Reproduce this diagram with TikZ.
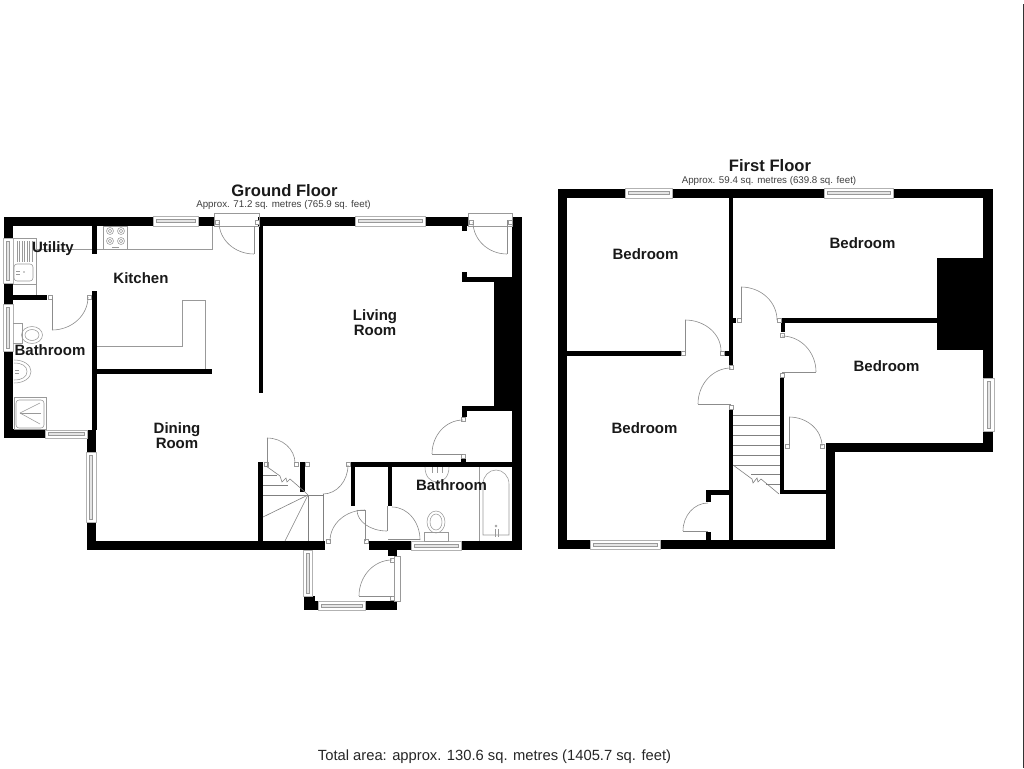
\documentclass[tikz,border=0pt]{standalone}
\usepackage{fontspec}
\setmainfont{Liberation Sans}
\tikzset{
  wall/.style={fill=black,draw=none},
  fit/.style={draw=black!40,line width=0.55pt,fill=none},
  winl/.style={draw=black!30,line width=0.55pt},
  door/.style={draw=black!45,line width=0.6pt,fill=none},
  stair/.style={draw=black!50,line width=0.6pt},
  room/.style={font=\bfseries\fontsize{15}{15}\selectfont,text=black!90,align=center,inner sep=0pt},
  head/.style={font=\bfseries\fontsize{16.6}{17}\selectfont,text=black!90,inner sep=0pt},
  sub/.style={font=\fontsize{9.75}{10}\selectfont,text=black!75,inner sep=0pt},
}
\newcommand{\wl}[4]{\fill[wall] (#1,#2) rectangle (#3,#4);}
\newcommand{\winh}[4]{\draw[winl,fill=white] (#1,#2) rectangle (#3,#4);
  \draw[winl,draw=black!40,fill=black!10] ({#1+3},{(#2+#4)/2-1.6}) rectangle ({#3-3},{(#2+#4)/2+1.6});}
\newcommand{\winv}[4]{\draw[winl,fill=white] (#1,#2) rectangle (#3,#4);
  \draw[winl,draw=black!40,fill=black!10] ({(#1+#3)/2-1.6},{#2+3}) rectangle ({(#1+#3)/2+1.6},{#4-3});}
\newcommand{\sq}[2]{\draw[fit,fill=white] ({#1-2},{#2-2}) rectangle ({#1+2},{#2+2});}
% quarter arc: x0 y0 -> x1 y1 with corner cx cy
\newcommand{\qarc}[6]{\draw[door] (#1,#2) .. controls ({#1+0.5523*(#5-#1)},{#2+0.5523*(#6-#2)}) and ({#3+0.5523*(#5-#3)},{#4+0.5523*(#6-#4)}) .. (#3,#4);}
\begin{document}
\begin{tikzpicture}[x=1pt,y=-1pt]
\useasboundingbox (0,0) rectangle (1024,768);
\fill[white] (0,0) rectangle (1024,768);
\fill[black!80] (1022.8,4) rectangle (1024,768);
% ---------- GROUND FLOOR walls
\wl{4}{217}{214}{226}
\wl{258}{217}{468}{226}
\wl{462}{226}{467}{231}
\wl{4}{217}{13}{238}
\wl{4}{283}{13}{304}
\wl{13}{295}{47}{300}
\wl{4}{351}{13}{438}
\wl{4}{429}{45}{438}
\wl{87}{430}{96}{452}
\wl{87}{522}{96}{550}
\wl{87}{541}{325}{550}
\wl{369}{541}{411}{550}
\wl{461}{541}{522}{550}
\wl{388}{541}{397}{556}
\wl{92}{226}{97}{254}
\wl{92}{291}{97}{430}
\wl{97}{369}{212}{374}
\wl{259}{226}{263}{393}
\wl{258}{462}{263}{541}
\wl{300}{462}{305}{492}
\wl{351}{462}{355}{506}
\wl{388}{467}{392}{506}
\wl{350}{462}{512}{467}
\wl{512}{217}{522}{550}
\wl{462}{277}{512}{282}
\wl{462}{272}{467}{282}
\wl{494}{282}{512}{406}
\wl{462}{406}{512}{411}
\wl{462}{411}{467}{417}
\wl{461}{458}{466}{462}
\wl{304}{601}{318}{610}
\wl{304}{596}{315}{610}
\wl{365}{601}{397}{610}
% windows
\winh{153}{216}{198}{226}
\winh{355}{216}{425}{226}
\winv{3}{238}{13}{283}
\winv{3}{304}{13}{351}
\winh{45}{430}{87}{438}
\winv{86}{452}{96}{522}
\winh{411}{541}{461}{550}
\winv{303}{550}{312}{596}
\winh{318}{601}{365}{610}
\draw[fit] (394,556) rectangle (400,601);
% doors ground
\draw[fit] (214,213) rectangle (259,226);
\draw[fit] (468,213) rectangle (512,226);
\sq{217}{222}\sq{257}{222}\sq{471}{222}\sq{510}{222}
\draw[door] (254,226) -- (254,254);
\qarc{219}{222}{254}{254}{219}{254}
\draw[door] (507,220) -- (507,254);
\qarc{473}{222}{507}{254}{473}{254}
\sq{50}{297}\sq{89}{297}
\draw[door] (52,297) -- (52,330);
\qarc{52}{330}{88}{297}{88}{330}
\sq{463}{419}\sq{463}{456}
\draw[door] (463,454) -- (432,454);
\qarc{432}{454}{463}{420}{432}{420}
% hall door
\sq{266}{464}\sq{296}{464}\sq{307}{464}\sq{348}{464}
\qarc{348}{465}{323}{494}{348}{494}
\draw[door] (267,438) -- (267,466);
\qarc{267}{438}{295}{463}{295}{438}
% entry door
\sq{328}{541}\sq{366}{541}
\draw[door] (365,541) -- (365,510) -- (357,510);
\qarc{330}{541}{365}{510}{330}{510}
% bath door
\draw[door] (387,506) -- (387,531);
\qarc{387}{531}{357}{510}{357}{531}
\draw[door] (388,539) -- (420,539);
\qarc{392}{507}{420}{540}{420}{507}
% porch door
\sq{392}{560}\sq{392}{598}
\draw[door] (392,596) -- (359,596);
\qarc{359}{596}{392}{560}{359}{560}
% stairs ground
\draw[stair] (263,495) -- (323,495);
\draw[stair] (263,485) -- (288,485);
\draw[stair] (263,475) -- (277,475);
\draw[stair] (266,466) -- (280,476) -- (282,482) -- (286,478) -- (287,482) -- (290,479) -- (305,492) -- (308,495);
\draw[stair] (308,495) -- (263,517);
\draw[stair] (308,495) -- (285,541);
\draw[stair] (308,495) -- (308,541);
\draw[stair] (323,494) -- (323,541);
% kitchen fittings
\draw[fit] (36,249) -- (92,249);
\draw[fit] (97,249) -- (212,249) -- (212,226);
\draw[fit,fill=white] (103,226) rectangle (127,249);
\foreach \a/\b in {110/231,121/231,110/241,121/241}{\draw[fit] (\a,\b) circle[radius=3.5];\draw[fit] (\a,\b) circle[radius=1.8];}
\draw[fit] (112,247.5) -- (119,247.5);
\draw[fit] (97,346) -- (182,346) -- (182,300) -- (205.5,300) -- (205.5,369);
% sink
\draw[fit] (13,238) -- (36,238) -- (36,295);
\draw[fit] (13,284) -- (36,284);
\foreach \a in {17,19.5,22,24.5,27,29.5,32}{\draw[fit] (\a,241) -- (\a,262);}
\draw[fit,rounded corners=3pt] (14,264) rectangle (33,281);
\draw[fit] (16,271) -- (20,271);\draw[fit] (16,274) -- (20,274);
\draw[fit] (24,272) circle[radius=0.6];
% WC bath1
\draw[fit] (13,323) -- (22,323) -- (22,343) -- (13,343);
\draw[fit] (32,335) ellipse[x radius=10.5,y radius=8.5];
\draw[fit] (32,335) ellipse[x radius=7,y radius=5.5];
% basin
\draw[fit] (14,360) .. controls (24,360) and (31,365) .. (31,371.5) .. controls (31,378) and (24,383) .. (14,383);
\draw[fit] (14,363) .. controls (22,363) and (27,366) .. (27,371.5) .. controls (27,377) and (22,380) .. (14,380);
\draw[fit] (15,370) -- (19,370);\draw[fit] (15,373) -- (19,373);
% shower
\draw[fit] (14,397) rectangle (46,429);
\draw[fit,rounded corners=3pt] (16,400) rectangle (44,428);
\draw[fit] (20,413) -- (40,403);\draw[fit] (20,413) -- (41,413);\draw[fit] (20,413) -- (40,424);
% bath 2 fittings
\draw[fit] (479,467) -- (479,541);
\draw[fit] (483,535) -- (483,484) .. controls (483,476) and (489,470) .. (496,470) .. controls (503,470) and (509,476) .. (509,484) -- (509,535) -- cycle;
\draw[fit] (495,529) -- (495,537);\draw[fit] (498,529) -- (498,537);
\draw[fit] (496,526) circle[radius=1];
\draw[fit] (425,467) .. controls (425,476) and (430,482) .. (437,482) .. controls (444,482) and (449,476) .. (449,467);
\draw[fit] (432,467) -- (432,473);\draw[fit] (437,467) -- (437,473);\draw[fit] (442,467) -- (442,473);
\draw[fit] (424,532) rectangle (448,541);
\draw[fit] (436,522) ellipse[x radius=9,y radius=11];
\draw[fit] (436,522) ellipse[x radius=6,y radius=8];
% ---------- FIRST FLOOR walls
\wl{558}{189}{625}{198}
\wl{672}{189}{824}{198}
\wl{893}{189}{993}{198}
\wl{558}{189}{567}{549}
\wl{983}{198}{993}{378}
\wl{983}{431}{993}{452}
\wl{937}{258}{993}{350}
\wl{729}{198}{733}{365}
\wl{733}{318}{736}{323}
\wl{781}{318}{937}{323}
\wl{781}{318}{785}{332}
\wl{567}{351}{681}{356}
\wl{725}{351}{733}{356}
\wl{729}{409}{733}{540}
\wl{558}{540}{590}{549}
\wl{660}{540}{835}{549}
\wl{706}{490}{729}{495}
\wl{706}{490}{711}{502}
\wl{706}{532}{711}{540}
\wl{780}{377}{784}{494}
\wl{784}{490}{826}{494}
\wl{826}{443}{835}{549}
\wl{826}{443}{993}{452}
\winh{625}{188}{672}{198}
\winh{824}{188}{893}{198}
\winh{590}{540}{660}{549}
\winv{983}{378}{994}{431}
% first floor doors
\sq{683}{353}\sq{722}{353}
\draw[door] (685,353) -- (685,320);
\qarc{685}{320}{721}{351}{721}{320}
\sq{731}{367}\sq{731}{407}
\draw[door] (731,404) -- (698,404);
\qarc{698}{404}{731}{368}{698}{368}
\sq{739}{320.5}\sq{779}{320.5}
\draw[door] (741,320) -- (741,287);
\qarc{741}{287}{777}{320}{777}{287}
\sq{782}{335}\sq{782}{375}
\draw[door] (782,372) -- (816,372);
\qarc{816}{372}{782}{336}{816}{336}
\sq{787}{446}\sq{822}{446}
\draw[door] (789,446) -- (789,417);
\qarc{789}{417}{822}{446}{822}{417}
\draw[door] (708,531) -- (683,531);
\qarc{683}{531}{708}{503}{683}{503}
% stairs first
\foreach \yy in {415.7,425.7,435.3,445,455,465}{\draw[stair] (733,\yy) -- (780,\yy);}
\draw[stair] (751,474.7) -- (780,474.7);
\draw[stair] (766,484.3) -- (780,484.3);
\draw[stair] (733,465) -- (752,479) -- (753,483) -- (757,478) -- (758,482) -- (761,479) -- (779,494);
% ---------- labels
\node[head] (gf) at (284.5,190.5) {Ground Floor};
\node[sub] (gfa) at (283.5,204.5) {Approx. 71.2 sq. metres (765.9 sq. feet)};
\node[head] (ff) at (770,165.5) {First Floor};
\node[sub] (ffa) at (769,180.5) {Approx. 59.4 sq. metres (639.8 sq. feet)};
\node[room] (u) at (53,249) {Utility};
\node[room] (k) at (141,278) {Kitchen};
\node[room] (b1) at (50,350) {Bathroom};
\node[room] (b2) at (451.5,485) {Bathroom};
\node[room] (dr) at (177,435.5) {Dining\\Room};
\node[room] (lr) at (375,323) {Living\\Room};
\node[room] (r1) at (645.5,254) {Bedroom};
\node[room] (r2) at (862.5,243.5) {Bedroom};
\node[room] (r3) at (886.5,366) {Bedroom};
\node[room] (r4) at (644.5,428) {Bedroom};
\node[font=\fontsize{14.75}{15}\selectfont,text=black!85,inner sep=0pt] (t) at (494.5,756.5) {Total area: approx. 130.6 sq. metres (1405.7 sq. feet)};
\end{tikzpicture}
\end{document}
